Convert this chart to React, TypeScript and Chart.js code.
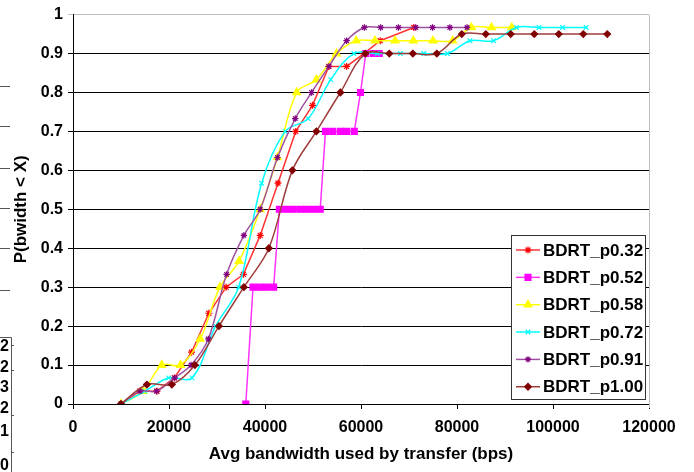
import React, { useEffect, useRef } from 'react';
import { Chart, registerables } from 'chart.js';
import { drawPoint } from 'chart.js/helpers';

Chart.register(...registerables);

const seriesNames = ['BDRT_p0.32', 'BDRT_p0.52', 'BDRT_p0.58', 'BDRT_p0.72', 'BDRT_p0.91', 'BDRT_p1.00'];

const p032X = [10000, 13900, 17500, 21100, 24700, 28300, 31900, 35500, 39000, 42700, 46400, 49900, 53300, 57000, 60600, 64000, 71000];
const p032Y = [0, 0.033, 0.033, 0.067, 0.133, 0.233, 0.3, 0.333, 0.433, 0.567, 0.7, 0.767, 0.867, 0.867, 0.9, 0.933, 0.967];

const p052X = [36000, 37500, 38900, 40300, 41800, 43000, 44500, 45900, 47400, 48700, 50100, 51500, 52600, 54100, 55700, 57000, 58600, 59900, 61000, 62600, 63800];
const p052Y = [0, 0.3, 0.3, 0.3, 0.3, 0.5, 0.5, 0.5, 0.5, 0.5, 0.5, 0.5, 0.7, 0.7, 0.7, 0.7, 0.7, 0.8, 0.9, 0.9, 0.9];

const p058X = [10000, 14600, 18500, 22400, 26500, 30600, 34600, 39000, 42600, 46600, 50700, 54900, 59000, 62900, 67100, 70900, 75000, 79100, 83000, 87200, 91400];
const p058Y = [0, 0.033, 0.1, 0.1, 0.167, 0.3, 0.367, 0.5, 0.633, 0.8, 0.833, 0.9, 0.933, 0.933, 0.933, 0.933, 0.933, 0.933, 0.967, 0.967, 0.967];

const p072X = [10000, 15000, 19900, 24800, 29700, 34500, 39300, 44200, 49000, 53700, 58500, 63400, 68200, 73100, 78000, 82700, 87600, 92400, 97100, 102000, 106900];
const p072Y = [0, 0.033, 0.067, 0.067, 0.2, 0.3, 0.567, 0.7, 0.733, 0.833, 0.9, 0.9, 0.9, 0.9, 0.9, 0.933, 0.933, 0.967, 0.967, 0.967, 0.967];

const p091X = [10000, 14000, 17400, 21200, 24600, 28200, 32000, 35600, 39000, 42600, 46300, 49700, 53300, 57000, 60700, 64100, 67800, 71400, 74900, 78500, 82100];
const p091Y = [0, 0.033, 0.033, 0.067, 0.1, 0.167, 0.333, 0.433, 0.5, 0.633, 0.733, 0.8, 0.867, 0.933, 0.967, 0.967, 0.967, 0.967, 0.967, 0.967, 0.967];

const p100X = [10000, 15400, 20600, 25400, 30400, 35600, 40800, 45700, 50700, 55700, 60900, 65900, 70800, 75800, 81000, 86000, 91200, 96100, 101200, 106300, 111300];
const p100Y = [0, 0.05, 0.05, 0.1, 0.2, 0.3, 0.4, 0.6, 0.7, 0.8, 0.9, 0.9, 0.9, 0.9, 0.95, 0.95, 0.95, 0.95, 0.95, 0.95, 0.95];

const xTickLabels = ['0', '20000', '40000', '60000', '80000', '100000', '120000'];
const yTickLabels = ['0', '0.1', '0.2', '0.3', '0.4', '0.5', '0.6', '0.7', '0.8', '0.9', '1'];
const xTitle = 'Avg bandwidth used by transfer (bps)';
const yTitle = 'P(bwidth < X)';
const sideDigits = ['2', '2', '3', '2', '1', '0'];

const FONT = "'Liberation Sans', Arial, sans-serif";

const styles = [
  { line: '#ff3333', mark: '#ff0000', pointStyle: 'star', radius: 3.5, tension: 0 },
  { line: '#ff33ff', mark: '#ff00ff', pointStyle: 'rect', radius: 4.2, tension: 0 },
  { line: '#ffff00', mark: '#ffff00', pointStyle: 'triangle', radius: 4.5, tension: 0.35 },
  { line: '#00ffff', mark: '#00ffff', pointStyle: 'crossRot', radius: 3.2, tension: 0.35 },
  { line: '#a050a0', mark: '#800080', pointStyle: 'star', radius: 3.2, tension: 0.35 },
  { line: '#a03c3c', mark: '#800000', pointStyle: 'rectRot', radius: 3.3, tension: 0.35 },
];

const seriesX = [p032X, p052X, p058X, p072X, p091X, p100X];
const seriesY = [p032Y, p052Y, p058Y, p072Y, p091Y, p100Y];

const legendPlugin = {
  id: 'customLegend',
  beforeDatasetsDraw(chart: any) {
    const { ctx, chartArea } = chart;
    ctx.save();
    ctx.strokeStyle = '#c0c0c0';
    ctx.lineWidth = 1;
    ctx.beginPath();
    ctx.moveTo(chartArea.right + 0.5, chartArea.top);
    ctx.lineTo(chartArea.right + 0.5, chartArea.bottom + 4);
    ctx.stroke();
    ctx.restore();
  },
  afterDraw(chart: any) {
    const { ctx } = chart;
    ctx.save();
    const bx = 511.5, by = 235.5, bw = 134, bh = 164;
    ctx.fillStyle = '#ffffff';
    ctx.fillRect(bx, by, bw, bh);
    ctx.strokeStyle = '#333333';
    ctx.lineWidth = 1;
    ctx.strokeRect(bx, by, bw, bh);
    ctx.font = `bold 17px ${FONT}`;
    ctx.textBaseline = 'middle';
    ctx.textAlign = 'left';
    seriesNames.forEach((name, i) => {
      const s = styles[i];
      const y = 250 + i * 27.35;
      ctx.strokeStyle = s.line;
      ctx.lineWidth = 1.5;
      ctx.beginPath();
      ctx.moveTo(516, y);
      ctx.lineTo(540, y);
      ctx.stroke();
      ctx.fillStyle = s.mark;
      ctx.strokeStyle = s.mark;
      ctx.lineWidth = 1.2;
      drawPoint(ctx, { pointStyle: s.pointStyle, radius: s.radius, rotation: 0, borderWidth: 1.2 } as any, 528, y);
      ctx.fillStyle = '#000000';
      ctx.fillText(name, 543, y + 1);
    });
    // remnants of a neighbouring picture at the left edge
    ctx.strokeStyle = '#555555';
    ctx.lineWidth = 1;
    [86, 126, 168, 208, 248, 290].forEach((yy) => {
      ctx.beginPath();
      ctx.moveTo(0, yy + 0.5);
      ctx.lineTo(10, yy + 0.5);
      ctx.stroke();
    });
    ctx.beginPath();
    ctx.moveTo(0, 337.5);
    ctx.lineTo(11.5, 337.5);
    ctx.lineTo(11.5, 472);
    ctx.stroke();
    [345, 370, 415, 452].forEach((yy) => {
      ctx.beginPath();
      ctx.moveTo(11.5, yy + 0.5);
      ctx.lineTo(14, yy + 0.5);
      ctx.stroke();
    });
    ctx.fillStyle = '#000000';
    ctx.font = `bold 16px ${FONT}`;
    ctx.textAlign = 'right';
    [347, 368, 388, 409, 432, 466].forEach((yy, i) => {
      ctx.fillText(sideDigits[i], 9, yy);
    });
    ctx.restore();
  },
};

export default function App() {
  const ref = useRef<HTMLCanvasElement | null>(null);
  useEffect(() => {
    if (!ref.current) return;
    const datasets = seriesNames.map((name, i) => ({
      label: name,
      data: seriesX[i].map((x, j) => ({ x, y: seriesY[i][j] })),
      borderColor: styles[i].line,
      backgroundColor: styles[i].mark,
      borderWidth: 1.5,
      pointStyle: styles[i].pointStyle as any,
      pointRadius: styles[i].radius,
      pointBackgroundColor: styles[i].mark,
      pointBorderColor: styles[i].mark,
      pointBorderWidth: 1.2,
      tension: styles[i].tension,
      fill: false,
      order: seriesNames.length - i,
    }));
    const tickFont = { family: FONT, size: 16, weight: 'bold' as const };
    const titleFont = { family: FONT, size: 17, weight: 'bold' as const };
    const chart = new Chart(ref.current, {
      type: 'line',
      data: { datasets },
      plugins: [legendPlugin],
      options: {
        responsive: false,
        animation: false,
        layout: { padding: { top: 11, right: 45, left: 0, bottom: 0 } },
        plugins: { legend: { display: false }, tooltip: { enabled: false } },
        scales: {
          x: {
            type: 'linear',
            min: 0,
            max: 120000,
            ticks: {
              stepSize: 20000,
              color: '#000',
              font: tickFont,
              padding: 9,
              maxRotation: 0,
              callback: (_v: any, idx: number) => xTickLabels[idx],
            },
            grid: { display: true, drawOnChartArea: false, drawTicks: true, tickLength: 5, color: '#000' },
            border: { display: true, color: '#000', width: 1 },
            title: { display: true, text: xTitle, color: '#000', font: titleFont, padding: { top: 2, bottom: 7 } },
            afterFit: (scale: any) => { scale.height = 68; },
          },
          y: {
            type: 'linear',
            min: 0,
            max: 1,
            ticks: {
              stepSize: 0.1,
              color: '#000',
              font: tickFont,
              padding: 5,
              callback: (_v: any, idx: number) => yTickLabels[idx],
            },
            grid: {
              display: true,
              drawTicks: true,
              tickLength: 5,
              color: (c: any) => (c.tick && Math.abs(c.tick.value - 1) < 1e-6 ? '#c0c0c0' : '#000'),
            },
            border: { display: true, color: '#000', width: 1 },
            title: { display: true, text: yTitle, color: '#000', font: titleFont, padding: { top: 11, bottom: 0 } },
            afterFit: (scale: any) => { scale.width = 73; },
          },
        },
      } as any,
    });
    return () => chart.destroy();
  }, []);
  return (
    <div style={{ position: 'fixed', left: 0, top: 0, width: 694, height: 472, background: '#fff' }}>
      <canvas ref={ref} width={694} height={472} />
    </div>
  );
}
